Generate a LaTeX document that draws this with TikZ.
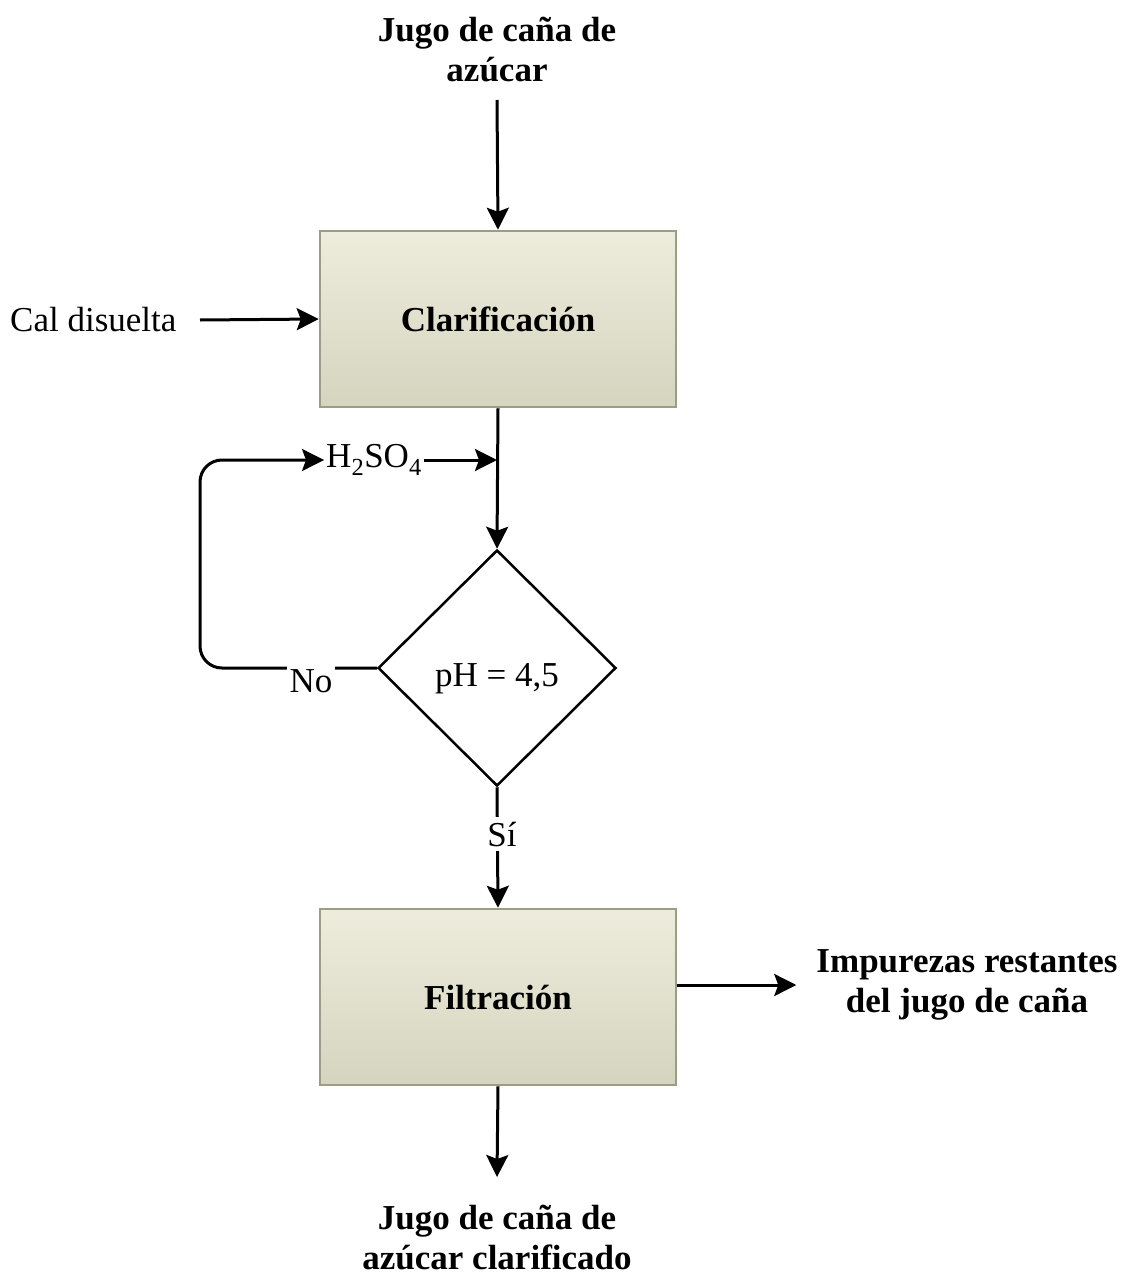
\documentclass[tikz,border=0pt]{standalone}
\usepackage{fontspec}
\setmainfont{Liberation Serif}
\usetikzlibrary{shapes.geometric,arrows.meta}
\definecolor{boxtop}{HTML}{EEEDDD}
\definecolor{boxbot}{HTML}{D5D4BF}
\definecolor{boxedge}{HTML}{9D9C87}
\begin{document}
\begin{tikzpicture}[x=1pt,y=-1pt,
  font=\fontsize{35}{40}\selectfont,
  arr/.style={line width=3pt,-{Stealth[length=22pt,width=22pt,inset=4pt]}},
  proc/.style={draw=boxedge,line width=2.5pt,top color=boxtop,bottom color=boxbot,
    minimum width=356pt,minimum height=176pt,inner sep=0pt,
    font=\fontsize{35}{40}\selectfont\bfseries},
  lbl/.style={align=center,inner sep=0pt},
  gap/.style={fill=white,inner xsep=3pt,inner ysep=5pt},
]
\useasboundingbox[fill=white] (0,0) rectangle (1131,1279);

% inputs and outputs
\node[lbl,font=\fontsize{35}{40}\selectfont\bfseries] (in) at (497,50) {Jugo de caña de\\azúcar};
\coordinate (intail) at (497,100);
\node[lbl,anchor=west] (cal) at (10,320) {Cal disuelta};
\coordinate (caltail) at (200,320);
\node[lbl,font=\fontsize{35}{40}\selectfont\bfseries] (out) at (497,1238) {Jugo de caña de\\azúcar clarificado};
\coordinate (outtip) at (497,1177);
\node[lbl,inner xsep=20pt,font=\fontsize{35}{40}\selectfont\bfseries] (imp) at (967,985) {Impurezas restantes\\del jugo de caña};

% process steps
\node[proc] (clar) at (498,319) {Clarificación};
\node[draw,diamond,aspect=1,line width=2.5pt,minimum width=238pt,minimum height=236pt,inner sep=0pt] (dec) at (497,668) {\raisebox{-18pt}[0pt][0pt]{pH = 4,5}};
\node[proc] (fil) at (498,997) {Filtración};

% acid dosing
\node[inner sep=2pt] (acid) at (374,460) {H\textsubscript{2}SO\textsubscript{4}};
\coordinate (join) at (497,460);

% connectors
\draw[arr] (intail) -- (clar.north);
\draw[arr] (caltail) -- (clar.west);
\draw[arr] (clar.south) -- (dec.north);
\draw[arr] (acid.east) -- (join);
\draw[arr,rounded corners=22pt] (dec.west) -- (200,668) -- (200,460) -- (acid.west);
\node[gap] (no) at (311,681) {No};
\draw[arr] (dec.south) -- (fil.north);
\node[gap] (si) at (502,834) {Sí};
\draw[arr] (fil.east |- imp.west) -- (imp.west);
\draw[arr] (fil.south) -- (outtip);
\end{tikzpicture}
\end{document}
